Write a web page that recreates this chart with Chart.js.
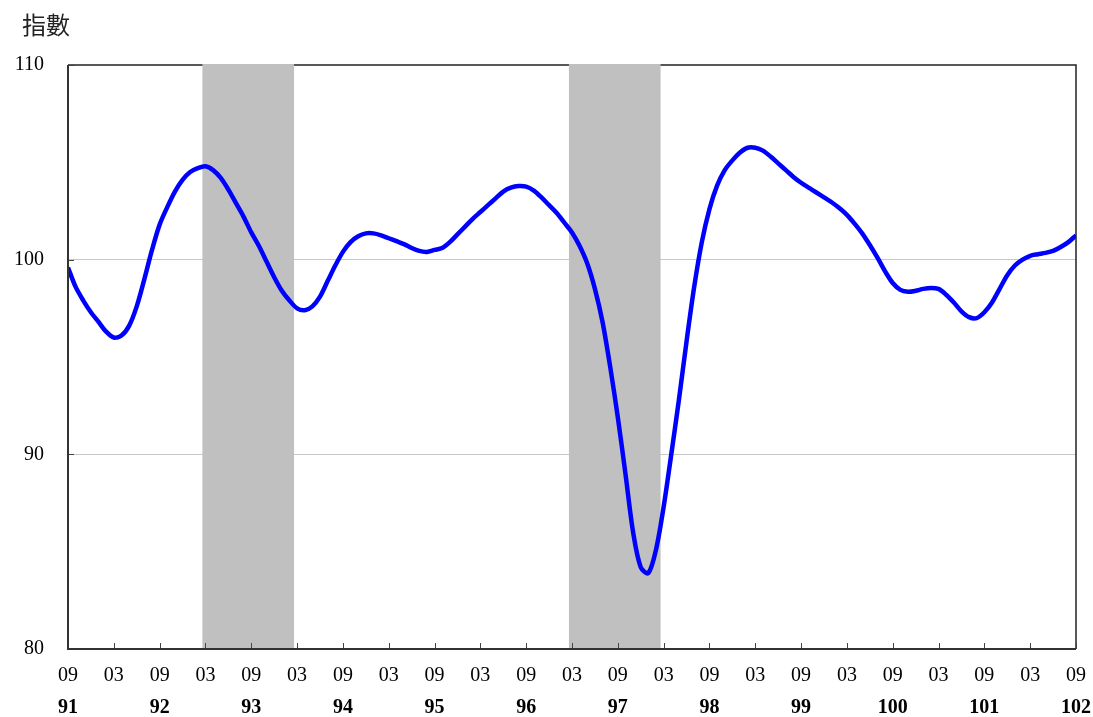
<!DOCTYPE html>
<html lang="zh-Hant">
<head>
<meta charset="utf-8">
<title>指數</title>
<script src="https://cdn.jsdelivr.net/npm/chart.js@4.4.1/dist/chart.umd.min.js"></script>
<style>
  html, body { margin: 0; padding: 0; background: #fff; }
  #wrap { position: relative; width: 1093px; height: 717px; }
</style>
</head>
<body>
<div id="wrap"><canvas id="chart"></canvas></div>
<script>
// ── data ──
const startMonth = '91/09';   // first point of the series (ROC year / month)
const tickLabels = ['09','03','09','03','09','03','09','03','09','03','09','03',
                    '09','03','09','03','09','03','09','03','09','03','09'];
const yearLabels = ['91','92','93','94','95','96','97','98','99','100','101','102'];
const yTicks = [80, 90, 100, 110];
const recessionStart = ['93/03', '97/03'];
const recessionEnd   = ['94/02', '98/02'];

// monthly index, 91/09 .. 102/09
const indexValues = [
  99.6, 98.6, 97.9, 97.3, 96.8, 96.3, 96.0, 96.1, 96.6, 97.6, 99.0, 100.5,        // 91/09 - 92/08
  101.8, 102.7, 103.5, 104.1, 104.5, 104.7, 104.8, 104.6, 104.2, 103.6, 102.9, 102.2, // 92/09 - 93/08
  101.4, 100.7, 99.9, 99.1, 98.4, 97.9, 97.5, 97.4, 97.6, 98.1, 98.9, 99.7,      // 93/09 - 94/08
  100.4, 100.9, 101.2, 101.35, 101.35, 101.25, 101.1, 100.95, 100.8, 100.6, 100.45, 100.4, // 94/09 - 95/08
  100.5, 100.6, 100.9, 101.3, 101.7, 102.1, 102.45, 102.8, 103.15, 103.5, 103.7, 103.78,  // 95/09 - 96/08
  103.75, 103.55, 103.2, 102.8, 102.4, 101.9, 101.4, 100.7, 99.8, 98.5, 96.8, 94.5,      // 96/09 - 97/08
  91.9, 89.0, 86.0, 84.2, 83.9, 85.1, 87.3, 90.0, 92.8, 95.8, 98.6, 100.9,       // 97/09 - 98/08
  102.6, 103.8, 104.6, 105.1, 105.5, 105.75, 105.75, 105.6, 105.3, 104.95, 104.6, 104.25, // 98/09 - 99/08
  103.95, 103.7, 103.45, 103.2, 102.95, 102.65, 102.3, 101.85, 101.35, 100.75, 100.1, 99.4, // 99/09 - 100/08
  98.8, 98.45, 98.35, 98.4, 98.5, 98.55, 98.5, 98.2, 97.8, 97.35, 97.05, 97.0,   // 100/09 - 101/08
  97.3, 97.8, 98.5, 99.2, 99.7, 100.0, 100.2, 100.28, 100.35, 100.45, 100.65, 100.9, // 101/09 - 102/08
  101.25                                                                          // 102/09
];

// months elapsed since startMonth
function monthIndex(label) {
  const [y0, m0] = startMonth.split('/').map(Number);
  const [y, m] = label.split('/').map(Number);
  return (y - y0) * 12 + (m - m0);
}

const SERIF = "'Liberation Serif', 'DejaVu Serif', serif";
const lastIdx = indexValues.length - 1;

// shading, frame and inward ticks
const framePlugin = {
  id: 'frame',
  beforeDatasetsDraw(chart) {
    const { ctx, chartArea: a, scales: { x } } = chart;
    ctx.save();
    ctx.strokeStyle = '#222';
    ctx.lineWidth = 1.5;
    ctx.beginPath();
    ctx.moveTo(a.left, a.top);
    ctx.lineTo(a.right, a.top);
    ctx.lineTo(a.right, a.bottom);
    ctx.stroke();

    ctx.fillStyle = '#c0c0c0';
    recessionStart.forEach((s, i) => {
      const x0 = x.getPixelForValue(monthIndex(s) - 0.4);
      const x1 = x.getPixelForValue(monthIndex(recessionEnd[i]) + 0.6);
      ctx.fillRect(x0, a.top - 1, x1 - x0, a.bottom - a.top + 1);
    });
    ctx.restore();
  },
  afterDatasetsDraw(chart) {
    const { ctx, chartArea: a, scales: { x, y } } = chart;
    ctx.save();
    ctx.strokeStyle = '#444';
    ctx.lineWidth = 1;
    ctx.beginPath();
    x.ticks.forEach(t => {
      const px = Math.round(x.getPixelForValue(t.value)) + 0.5;
      ctx.moveTo(px, a.bottom);
      ctx.lineTo(px, a.bottom - 6);
    });
    y.ticks.forEach(t => {
      const py = Math.round(y.getPixelForValue(t.value)) + 0.5;
      ctx.moveTo(a.left, py);
      ctx.lineTo(a.left + 6, py);
    });
    ctx.stroke();

    ctx.strokeStyle = '#333';
    ctx.lineWidth = 2;
    ctx.beginPath();
    ctx.moveTo(a.left, a.top);
    ctx.lineTo(a.left, a.bottom);
    ctx.lineTo(a.right, a.bottom);
    ctx.stroke();
    ctx.restore();
  },
  afterDraw(chart) {
    const { ctx } = chart;
    ctx.save();
    ctx.fillStyle = '#222';
    ctx.font = "24px 'Noto Sans CJK TC', sans-serif";
    ctx.textBaseline = 'middle';
    ctx.fillText('指數', 22, 25);
    ctx.restore();
  }
};

function noSidePadding(scale) {
  scale.paddingLeft = 0;
  scale.paddingRight = 0;
}

new Chart(document.getElementById('chart'), {
  type: 'line',
  data: {
    datasets: [{
      data: indexValues.map((v, i) => ({ x: i, y: v })),
      borderColor: '#0000ff',
      borderWidth: 4.5,
      pointRadius: 0,
      tension: 0.3,
      fill: false,
    }]
  },
  options: {
    responsive: true,
    maintainAspectRatio: false,
    animation: false,
    layout: { padding: { top: 65, right: 17, bottom: 0, left: 0 } },
    plugins: { legend: { display: false }, tooltip: { enabled: false } },
    scales: {
      x: {
        type: 'linear',
        position: 'bottom',
        min: 0, max: lastIdx,
        grid: { display: false, drawTicks: false },
        border: { display: false },
        afterBuildTicks: s => { s.ticks = tickLabels.map((_, i) => ({ value: i * 6 })); },
        ticks: {
          autoSkip: false, maxRotation: 0, padding: 15,
          color: '#000', font: { family: SERIF, size: 20 },
          callback: (v, i) => tickLabels[i],
        },
        afterFit: s => { s.height = 40; noSidePadding(s); },
      },
      xYear: {
        type: 'linear',
        position: 'bottom',
        min: 0, max: lastIdx,
        grid: { display: false, drawTicks: false },
        border: { display: false },
        afterBuildTicks: s => { s.ticks = yearLabels.map((_, i) => ({ value: i * 12 })); },
        ticks: {
          autoSkip: false, maxRotation: 0, padding: 7,
          color: '#000', font: { family: SERIF, size: 20, weight: 'bold' },
          callback: (v, i) => yearLabels[i],
        },
        afterFit: s => { s.height = 28; noSidePadding(s); },
      },
      y: {
        min: 80, max: 110,
        grid: {
          drawTicks: false,
          color: ctx => (ctx.tick && (ctx.tick.value === 90 || ctx.tick.value === 100)) ? '#c8c8c8' : 'rgba(0,0,0,0)',
          lineWidth: 1,
        },
        border: { display: false },
        afterBuildTicks: s => { s.ticks = yTicks.map(v => ({ value: v })); },
        ticks: {
          padding: 24, color: '#000', font: { family: SERIF, size: 20 },
        },
        afterFit: s => { s.width = 68; },
      }
    }
  },
  plugins: [framePlugin]
});
</script>
</body>
</html>
